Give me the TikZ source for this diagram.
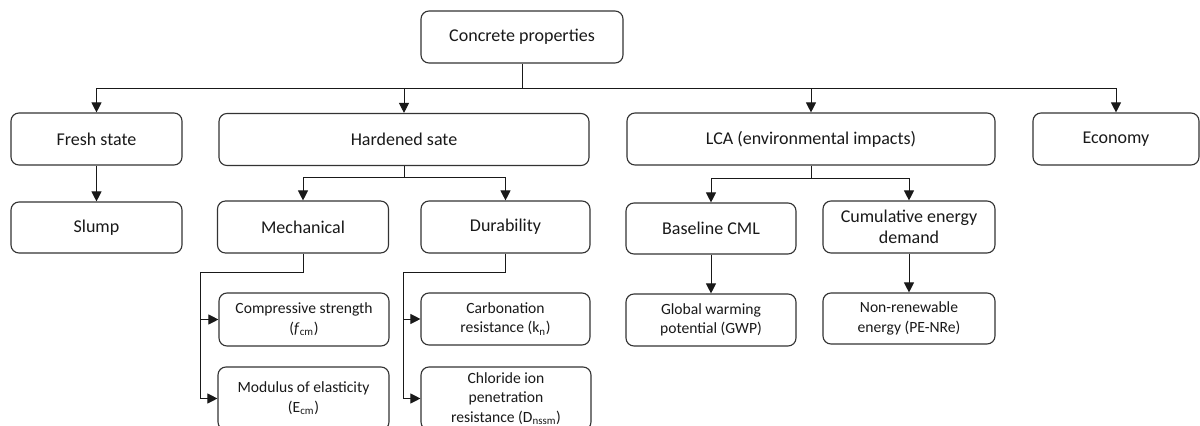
\documentclass[tikz,border=0pt]{standalone}
\usepackage{fontspec}
\setmainfont{Carlito}
\usetikzlibrary{arrows.meta}
\begin{document}
\begin{tikzpicture}[x=0.75pt,y=-0.75pt,
  box/.style={draw=black!80, line width=0.85pt, rounded corners=6pt, fill=white,
    align=center, inner sep=0pt, text=black!90, font=\fontsize{13.5}{15.75}\selectfont},
  sbox/.style={box, font=\fontsize{11.7}{14.6}\selectfont},
  sz/.style 2 args={minimum width={#1*0.75pt}, minimum height={#2*0.75pt}},
  ln/.style={draw=black!90, line width=0.75pt},
  arr/.style={ln, -{Triangle[length=7.5pt,width=7.5pt]}}]
\useasboundingbox (0,0) rectangle (1200,425);
% level 0
\node[box, sz={202}{52}] (conc) at (522,37) {Concrete properties};
% level 1
\node[box, sz={171}{52}] (fresh) at (96.5,139) {Fresh state};
\node[box, sz={370}{52}] (hard) at (404,139.5) {Hardened sate};
\node[box, sz={368}{52}] (lca) at (811,139) {LCA (environmental impacts)};
\node[box, sz={166}{52}] (econ) at (1116,139) {Economy};
% level 2
\node[box, sz={171}{51}] (slump) at (96.5,227.5) {Slump};
\node[box, sz={171}{52}] (mech) at (303,227) {Mechanical};
\node[box, sz={169}{52}] (dur) at (505.5,227) {Durability};
\node[box, sz={170}{51}] (base) at (711,228.5) {Baseline CML};
\node[box, sz={172}{52}] (cum) at (909,227) {Cumulative energy\\demand};
% level 3
\node[sbox, sz={170}{53}] (comp) at (304,319.5) {Compressive strength\\(\textit{f}\textsubscript{cm})};
\node[sbox, sz={171}{63}] (mod) at (303.5,398.5) {Modulus of elasticity\\(E\textsubscript{cm})};
\node[sbox, sz={169}{52}] (carb) at (505.5,319) {Carbonation\\resistance (k\textsubscript{n})};
\node[sbox, sz={170}{63}] (chl) at (506,398.5) {Chloride ion\\penetration\\resistance (D\textsubscript{nssm})};
\node[sbox, sz={170}{52}] (gwp) at (711,320) {Global warming\\potential (GWP)};
\node[sbox, sz={172}{51}] (nre) at (909,318.5) {Non-renewable\\energy (PE-NRe)};
% connectors level 0 -> 1
\coordinate (bus) at (0,88);
\draw[ln] (conc.south) -- (conc.south |- bus);
\draw[ln] (fresh.north |- bus) -- (econ.north |- bus);
\foreach \n in {fresh,hard,lca,econ} \draw[arr] (\n.north |- bus) -- (\n.north);
% fresh -> slump
\draw[arr] (fresh.south) -- (slump.north);
% hardened -> mech, dur
\coordinate (hbus) at (0,177);
\draw[ln] (hard.south) -- (hard.south |- hbus);
\draw[ln] (mech.north |- hbus) -- (dur.north |- hbus);
\draw[arr] (mech.north |- hbus) -- (mech.north);
\draw[arr] (dur.north |- hbus) -- (dur.north);
% lca -> base, cum
\coordinate (lbus) at (0,178);
\draw[ln] (lca.south) -- (lca.south |- lbus);
\draw[ln] (base.north |- lbus) -- (cum.north |- lbus);
\draw[arr] (base.north |- lbus) -- (base.north);
\draw[arr] (cum.north |- lbus) -- (cum.north);
\draw[arr] (base.south) -- (gwp.north);
\draw[arr] (cum.south) -- (nre.north);
% mechanical -> comp, mod
\coordinate (mbus) at (200,272);
\draw[arr] (mech.south) -- (mech.south |- mbus) -- (mbus) |- (mod.west);
\draw[arr] (mbus |- comp.west) -- (comp.west);
% durability -> carb, chl
\coordinate (dbus) at (403,272);
\draw[arr] (dur.south) -- (dur.south |- dbus) -- (dbus) |- (chl.west);
\draw[arr] (dbus |- carb.west) -- (carb.west);
\end{tikzpicture}
\end{document}
